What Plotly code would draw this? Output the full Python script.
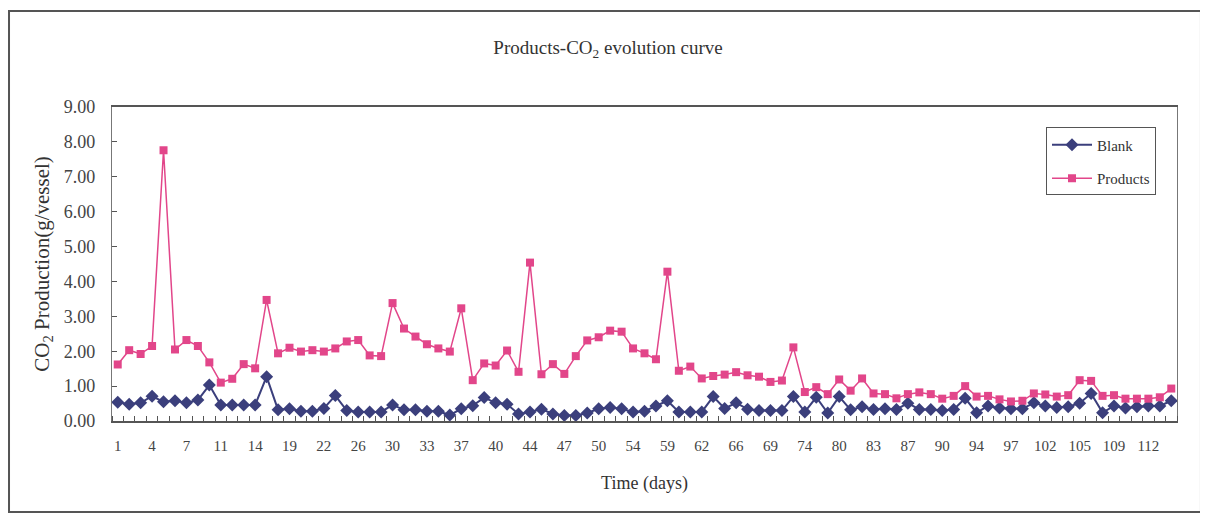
import plotly.graph_objects as go

# ---- data ----
tick_labels = ["1", "4", "7", "11", "14", "19", "22", "26", "30", "33", "37", "40",
               "44", "47", "50", "54", "59", "62", "66", "69", "74", "80", "83", "87",
               "90", "94", "97", "102", "105", "109", "112"]

blank = [0.54, 0.48, 0.52, 0.71, 0.55, 0.58, 0.52, 0.60, 1.03, 0.46,
         0.46, 0.46, 0.46, 1.27, 0.32, 0.35, 0.28, 0.28, 0.36, 0.73,
         0.30, 0.26, 0.26, 0.26, 0.46, 0.32, 0.32, 0.28, 0.28, 0.17,
         0.35, 0.44, 0.67, 0.52, 0.48, 0.20, 0.26, 0.34, 0.20, 0.16,
         0.16, 0.23, 0.35, 0.39, 0.35, 0.26, 0.28, 0.43, 0.58, 0.26,
         0.26, 0.26, 0.70, 0.36, 0.52, 0.34, 0.30, 0.30, 0.30, 0.70,
         0.26, 0.68, 0.23, 0.70, 0.32, 0.41, 0.33, 0.35, 0.33, 0.51,
         0.33, 0.33, 0.30, 0.33, 0.65, 0.24, 0.43, 0.37, 0.35, 0.35,
         0.52, 0.43, 0.39, 0.41, 0.51, 0.79, 0.24, 0.43, 0.37, 0.41,
         0.43, 0.43, 0.58]

products = [1.62, 2.03, 1.92, 2.15, 7.76, 2.05, 2.32, 2.15, 1.68, 1.10,
            1.21, 1.63, 1.51, 3.47, 1.94, 2.10, 1.99, 2.03, 1.99, 2.08,
            2.28, 2.32, 1.88, 1.86, 3.38, 2.65, 2.42, 2.20, 2.08, 1.99,
            3.23, 1.17, 1.65, 1.59, 2.02, 1.41, 4.54, 1.34, 1.63, 1.35,
            1.86, 2.31, 2.40, 2.59, 2.56, 2.08, 1.94, 1.77, 4.28, 1.44,
            1.56, 1.22, 1.29, 1.33, 1.40, 1.31, 1.27, 1.12, 1.16, 2.11,
            0.83, 0.97, 0.77, 1.19, 0.87, 1.22, 0.79, 0.77, 0.65, 0.77,
            0.82, 0.77, 0.64, 0.72, 1.00, 0.70, 0.72, 0.62, 0.56, 0.58,
            0.79, 0.76, 0.70, 0.74, 1.17, 1.15, 0.72, 0.74, 0.64, 0.64,
            0.64, 0.68, 0.93]

LABEL_EVERY = 3
x = list(range(len(products)))

NAVY = "#3b3f7c"
PINK = "#e2468a"
FONT = "Liberation Serif"

fig = go.Figure()
fig.add_trace(go.Scatter(
    x=x, y=blank, name="Blank", mode="lines+markers", legendgroup="b",
    line=dict(color=NAVY, width=2),
    marker=dict(symbol="diamond", size=10, color=NAVY),
))
fig.add_trace(go.Scatter(
    x=x, y=products, name="Products", mode="lines+markers", legendgroup="p",
    line=dict(color=PINK, width=1.5),
    marker=dict(symbol="square", size=8, color=PINK),
))

fig.update_layout(
    width=1200, height=508,
    margin=dict(l=104, r=31, t=99, b=95),
    paper_bgcolor="white", plot_bgcolor="white",
    font=dict(family=FONT, size=14, color="#333333"),
    title=dict(
        text="Products-CO<sub>2</sub> evolution curve",
        x=0.5, xref="container", xanchor="center",
        y=0.923, yref="container", yanchor="middle",
        font=dict(family=FONT, size=19, color="#333333"),
    ),
    showlegend=True,
    legend=dict(
        x=0.877, y=0.935, xanchor="left", yanchor="top",
        bgcolor="white", bordercolor="#555555", borderwidth=1,
        font=dict(family=FONT, size=15, color="#333333"),
        tracegroupgap=11, itemwidth=40,
    ),
    xaxis=dict(
        range=[-0.5, len(products) - 0.5],
        tickmode="array",
        tickvals=x[::LABEL_EVERY],
        ticktext=tick_labels,
        ticks="", showgrid=False, zeroline=False,
        showline=True, linecolor="#555555", linewidth=1.5, mirror=True,
        tickfont=dict(family=FONT, size=15, color="#444444"),
        ticklabelstandoff=10,
        minor=dict(tick0=-0.5, dtick=1, ticks="inside", ticklen=5,
                   tickcolor="#555555", tickwidth=1, showgrid=False),
        title=dict(text="Time (days)", standoff=24,
                   font=dict(family=FONT, size=18, color="#333333")),
    ),
    yaxis=dict(
        range=[0, 9], dtick=1, tickformat=".2f",
        ticks="inside", ticklen=5, tickcolor="#555555",
        showgrid=False, zeroline=False,
        showline=True, linecolor="#777777", linewidth=1.2, mirror=True,
        tickfont=dict(family=FONT, size=18, color="#444444"),
        ticklabelstandoff=12,
        title=dict(text="CO<sub>2</sub> Production(g/vessel)", standoff=8,
                   font=dict(family=FONT, size=21, color="#333333")),
    ),
)

# outer chart frame
fig.add_shape(type="rect", xref="paper", yref="paper",
              x0=-0.0967, x1=1.0225, y0=-0.29, y1=1.306,
              line=dict(color="#555555", width=2), layer="below")

fig.write_html("out.html")
